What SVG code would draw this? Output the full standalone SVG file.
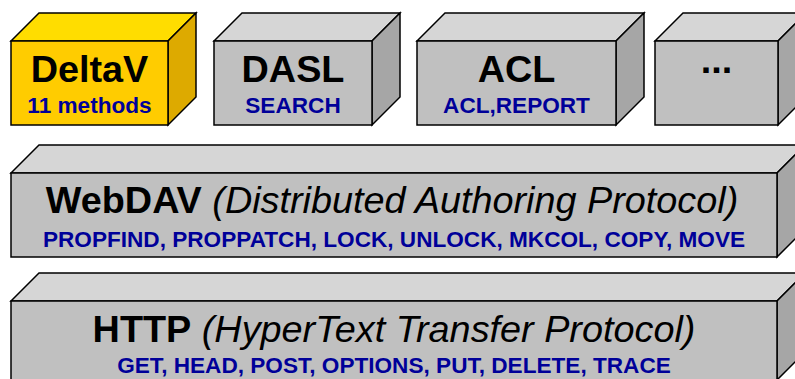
<svg xmlns="http://www.w3.org/2000/svg" width="795" height="379" viewBox="0 0 795 379">
  <style>
    .edge { stroke: #000; stroke-width: 1.5; stroke-linejoin: miter; }
    .y-front { fill: #FFCC00; }
    .y-top { fill: #FFDD00; }
    .y-side { fill: #DDAA00; }
    .g-front { fill: #C0C0C0; }
    .g-top { fill: #D6D6D6; }
    .g-side { fill: #A6A6A6; }
    .title { font-family: "Liberation Sans", Arial, sans-serif; font-weight: bold; font-size: 37.8px; fill: #000; text-anchor: middle; }
    .title tspan.sub { font-weight: normal; font-style: italic; }
    .methods { font-family: "Liberation Sans", Arial, sans-serif; font-weight: bold; font-size: 22.6px; fill: #000099; text-anchor: middle; }
  </style>
  <rect width="795" height="379" fill="#FFFFFF"/>

  <!-- Extension boxes (top row) -->
  <g id="deltav">
    <polygon class="edge y-top" points="11,41 39,13 196,13 168,41"/>
    <polygon class="edge y-side" points="168,41 196,13 196,97 168,125"/>
    <rect class="edge y-front" x="11" y="41" width="157" height="84"/>
    <text class="title" x="89.5" y="82">DeltaV</text>
    <text class="methods" x="89.5" y="113">11 methods</text>
  </g>

  <g id="dasl">
    <polygon class="edge g-top" points="214,41 242,13 400,13 372,41"/>
    <polygon class="edge g-side" points="372,41 400,13 400,97 372,125"/>
    <rect class="edge g-front" x="214" y="41" width="158" height="84"/>
    <text class="title" x="293" y="82">DASL</text>
    <text class="methods" x="293" y="113">SEARCH</text>
  </g>

  <g id="acl">
    <polygon class="edge g-top" points="417,41 445,13 644,13 616,41"/>
    <polygon class="edge g-side" points="616,41 644,13 644,97 616,125"/>
    <rect class="edge g-front" x="417" y="41" width="199" height="84"/>
    <text class="title" x="516.5" y="82">ACL</text>
    <text class="methods" x="516.5" y="113">ACL,REPORT</text>
  </g>

  <g id="more">
    <polygon class="edge g-top" points="655,41 683,13 806,13 778,41"/>
    <polygon class="edge g-side" points="778,41 806,13 806,97 778,125"/>
    <rect class="edge g-front" x="655" y="41" width="123" height="84"/>
    <text class="title" x="716.5" y="73">...</text>
  </g>

  <!-- WebDAV layer -->
  <g id="webdav">
    <polygon class="edge g-top" points="11,173 39,145 805,145 777,173"/>
    <polygon class="edge g-side" points="777,173 805,145 805,229 777,257"/>
    <rect class="edge g-front" x="11" y="173" width="766" height="84"/>
    <text class="title" x="392" y="213">WebDAV<tspan class="sub"> (Distributed Authoring Protocol)</tspan></text>
    <text class="methods" x="394" y="247">PROPFIND, PROPPATCH, LOCK, UNLOCK, MKCOL, COPY, MOVE</text>
  </g>

  <!-- HTTP layer -->
  <g id="http">
    <polygon class="edge g-top" points="11,301 39,273 805,273 777,301"/>
    <polygon class="edge g-side" points="777,301 805,273 805,352 777,380"/>
    <rect class="edge g-front" x="11" y="301" width="766" height="79"/>
    <text class="title" x="394" y="342">HTTP<tspan class="sub"> (HyperText Transfer Protocol)</tspan></text>
    <text class="methods" x="394" y="373">GET, HEAD, POST, OPTIONS, PUT, DELETE, TRACE</text>
  </g>

  <!-- No connectors: layers are stacked directly -->
  <g id="connectors"/>
</svg>
